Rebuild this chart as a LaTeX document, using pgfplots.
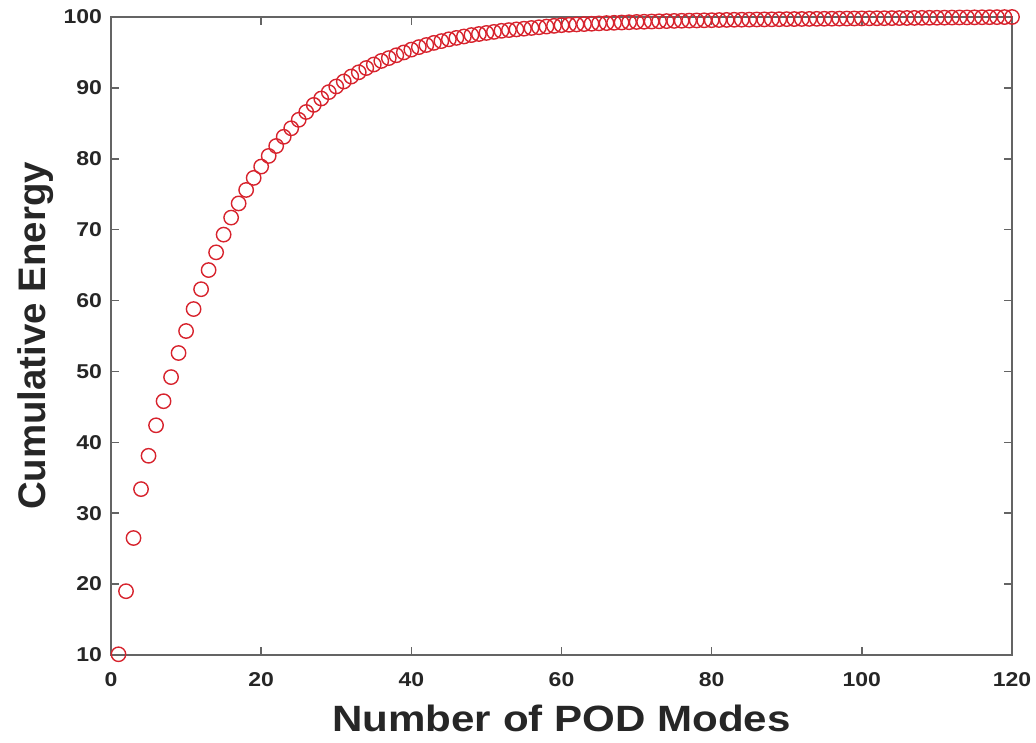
\documentclass[border=0pt]{standalone}
\usepackage{fontspec}
\setmainfont{Liberation Sans}[FakeStretch=1.15]
\newfontfamily\plainfont{Liberation Sans}
\usepackage{pgfplots}
\pgfplotsset{compat=1.18}
\usepackage{pgfplotstable}
\definecolor{mred}{RGB}{215,35,45}
\definecolor{axgray}{RGB}{100,100,100}
\pgfplotstableread{
x y
1 10.1
2 19.0
3 26.5
4 33.4
5 38.1
6 42.4
7 45.8
8 49.2
9 52.6
10 55.7
11 58.8
12 61.6
13 64.3
14 66.8
15 69.3
16 71.7
17 73.7
18 75.6
19 77.3
20 78.9
21 80.4
22 81.8
23 83.1
24 84.3
25 85.5
26 86.6
27 87.6
28 88.5
29 89.4
30 90.2
31 90.9
32 91.6
33 92.2
34 92.8
35 93.3
36 93.8
37 94.2
38 94.6
39 95.0
40 95.4
41 95.75
42 96.05
43 96.35
44 96.6
45 96.85
46 97.05
47 97.25
48 97.45
49 97.6
50 97.75
51 97.9
52 98.05
53 98.15
54 98.25
55 98.35
56 98.45
57 98.55
58 98.65
59 98.75
60 98.85
61 98.9
62 98.95
63 99.0
64 99.05
65 99.1
66 99.14
67 99.18
68 99.22
69 99.26
70 99.3
71 99.33
72 99.36
73 99.39
74 99.42
75 99.45
76 99.47
77 99.49
78 99.51
79 99.53
80 99.55
81 99.57
82 99.59
83 99.61
84 99.62
85 99.63
86 99.65
87 99.66
88 99.67
89 99.69
90 99.7
91 99.71
92 99.72
93 99.73
94 99.74
95 99.75
96 99.76
97 99.77
98 99.78
99 99.79
100 99.8
101 99.81
102 99.82
103 99.83
104 99.84
105 99.85
106 99.86
107 99.87
108 99.88
109 99.89
110 99.9
111 99.91
112 99.92
113 99.93
114 99.94
115 99.95
116 99.96
117 99.97
118 99.98
119 99.99
120 100
}\energy
\begin{document}
\begin{tikzpicture}
\begin{axis}[
  scale only axis,
  width=450.5pt, height=319pt,
  xmin=0, xmax=120, ymin=10, ymax=100,
  xtick={0,20,...,120}, ytick={10,20,...,100},
  axis line style={axgray, line width=1pt},
  tick style={axgray, line width=0.8pt},
  major tick length=4pt,
  tick align=inside,
  /pgf/number format/assume math mode=true,
  ticklabel style={font=\fontsize{10}{12}\selectfont\bfseries, text=black!85},
  xticklabel style={yshift=-5pt},
  yticklabel style={xshift=-1pt},
  xlabel={Number of POD Modes},
  ylabel={\plainfont Cumulative Energy},
  xlabel style={font=\fontsize{18.3}{21}\selectfont\bfseries, text=black!85, yshift=-2.5pt},
  ylabel style={font=\fontsize{19.2}{22}\selectfont\bfseries, text=black!85, yshift=-2pt},
  clip=false,
]
\addplot[only marks, mark=o, mark size=3.6pt, mark options={draw=mred, line width=0.7pt}] table[x=x,y=y] {\energy};
\coordinate (sw) at (rel axis cs:0,0);
\coordinate (ne) at (rel axis cs:1,1);
\end{axis}
\pgfresetboundingbox
\path[use as bounding box] ([shift={(-55.5pt,-44pt)}]sw) rectangle ([shift={(12pt,8.5pt)}]ne);
\end{tikzpicture}
\end{document}
